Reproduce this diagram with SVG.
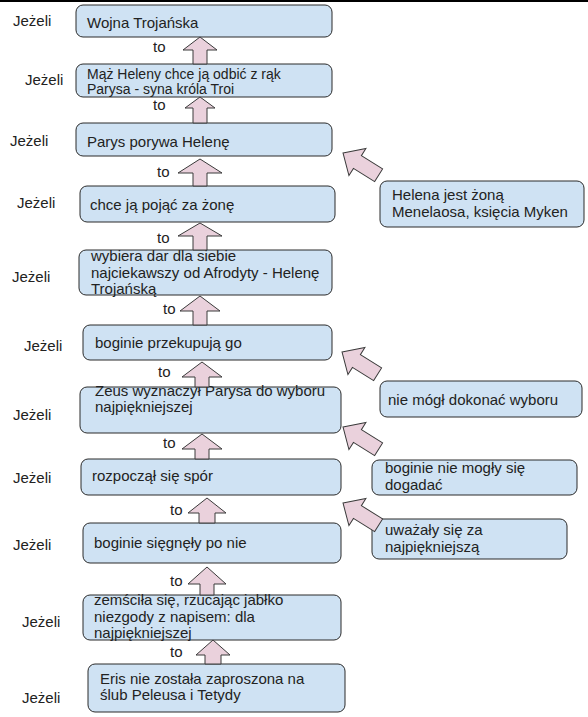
<svg xmlns="http://www.w3.org/2000/svg" width="588" height="717" viewBox="0 0 588 717">
  <style>
    .box { fill: #cfe2f3; stroke: #2b2b2b; stroke-width: 1; }
    .arw { fill: #ead1dc; stroke: #3a3a3a; stroke-width: 1; stroke-linejoin: miter; }
    text { font-family: "Liberation Sans", Arial, sans-serif; font-size: 15px; fill: #222; }
    .tight { font-size: 14px; }
  </style>
  <defs>
    <!-- slanted block arrow, tip at origin, pointing to -x -->
    <polygon id="slant" points="0,0 17,-16 17,-7.5 42,-7.5 42,7.5 17,7.5 17,16"/>
  </defs>

  <rect x="0" y="0" width="588" height="2" fill="#000"/>

  <!-- "Jeżeli" labels -->
  <g id="labels">
    <text x="13" y="26">Jeżeli</text>
    <text x="25" y="85">Jeżeli</text>
    <text x="10" y="146">Jeżeli</text>
    <text x="17" y="208">Jeżeli</text>
    <text x="12" y="282">Jeżeli</text>
    <text x="24" y="351">Jeżeli</text>
    <text x="13" y="420">Jeżeli</text>
    <text x="13" y="483">Jeżeli</text>
    <text x="13" y="550">Jeżeli</text>
    <text x="22" y="627">Jeżeli</text>
    <text x="22" y="703">Jeżeli</text>
  </g>

  <!-- main chain -->
  <g id="n1"><rect class="box" x="76" y="5" width="256" height="32" rx="7"/>
    <text x="87" y="28">Wojna Trojańska</text></g>
  <g id="n2"><rect class="box" x="76" y="64" width="256" height="33" rx="7"/>
    <text class="tight" x="87" y="79">Mąż Heleny chce ją odbić z rąk</text>
    <text class="tight" x="87" y="94">Parysa - syna króla Troi</text></g>
  <g id="n3"><rect class="box" x="76" y="123" width="256" height="33" rx="7"/>
    <text x="87" y="147">Parys porywa Helenę</text></g>
  <g id="n4"><rect class="box" x="80" y="186" width="255" height="36" rx="7"/>
    <text x="90" y="210">chce ją pojąć za żonę</text></g>
  <g id="n5"><rect class="box" x="79" y="250" width="253" height="45" rx="7"/>
    <text x="91" y="261">wybiera dar dla siebie</text>
    <text x="91" y="278">najciekawszy od Afrodyty - Helenę</text>
    <text x="91" y="294">Trojańską</text></g>
  <g id="n6"><rect class="box" x="83" y="325" width="249" height="35" rx="7"/>
    <text x="95" y="348">boginie przekupują go</text></g>
  <g id="n7"><rect class="box" x="80" y="387" width="261" height="46" rx="7"/>
    <text x="95" y="396">Zeus wyznaczył Parysa do wyboru</text>
    <text x="95" y="412">najpiękniejszej</text></g>
  <g id="n8"><rect class="box" x="81" y="459" width="260" height="36" rx="7"/>
    <text x="92" y="481">rozpoczął się spór</text></g>
  <g id="n9"><rect class="box" x="83" y="523" width="258" height="40" rx="7"/>
    <text x="94" y="548">boginie sięgnęły po nie</text></g>
  <g id="n10"><rect class="box" x="83" y="595" width="258" height="45" rx="7"/>
    <text x="94" y="605">zemściła się, rzucając jabłko</text>
    <text x="94" y="622">niezgody z napisem: dla</text>
    <text x="94" y="638">najpiękniejszej</text></g>
  <g id="n11"><rect class="box" x="88" y="664" width="257" height="48" rx="7"/>
    <text x="100" y="684">Eris nie została zaproszona na</text>
    <text x="100" y="700">ślub Peleusa i Tetydy</text></g>

  <!-- side reasons -->
  <g id="r1"><rect class="box" x="380" y="181" width="204" height="46" rx="7"/>
    <text x="392" y="200">Helena jest żoną</text>
    <text x="392" y="217">Menelaosa, księcia Myken</text></g>
  <g id="r2"><rect class="box" x="380" y="381" width="202" height="36" rx="7"/>
    <text x="388" y="405">nie mógł dokonać wyboru</text></g>
  <g id="r3"><rect class="box" x="372" y="460" width="205" height="35" rx="7"/>
    <text x="385" y="473">boginie nie mogły się</text>
    <text x="385" y="490">dogadać</text></g>
  <g id="r4"><rect class="box" x="372" y="519" width="195" height="40" rx="7"/>
    <text x="385" y="535">uważały się za</text>
    <text x="385" y="552">najpiękniejszą</text></g>

  <!-- connectors: "to" arrows up the chain, slanted arrows from the reasons -->
  <g id="connectors">
    <polygon class="arw" points="200,37 217,50 207,50 207,64 193,64 193,50 183,50"/>
    <polygon class="arw" points="200,97 215,108 207,108 207,123 193,123 193,108 185,108"/>
    <polygon class="arw" points="200,159 222,173 207,173 207,186 193,186 193,173 178,173"/>
    <polygon class="arw" points="200,223 222,236 207,236 207,250 193,250 193,236 178,236"/>
    <polygon class="arw" points="200,296 220,311 207,311 207,325 193,325 193,311 180,311"/>
    <polygon class="arw" points="202,362 222,377 209,377 209,387 195,387 195,377 182,377"/>
    <polygon class="arw" points="202,434 222,449 209,449 209,459 195,459 195,449 182,449"/>
    <polygon class="arw" points="207,498 226,513 215,513 215,523 199,523 199,513 188,513"/>
    <polygon class="arw" points="207,567 226,584 214,584 214,595 200,595 200,584 188,584"/>
    <polygon class="arw" points="213,640 230,655 221,655 221,664 205,664 205,655 196,655"/>
    <text x="153" y="52">to</text>
    <text x="153" y="110">to</text>
    <text x="157" y="177">to</text>
    <text x="157" y="243">to</text>
    <text x="163" y="314">to</text>
    <text x="158" y="377">to</text>
    <text x="163" y="448">to</text>
    <text x="170" y="515">to</text>
    <text x="170" y="586">to</text>
    <text x="170" y="657">to</text>

    <use href="#slant" class="arw" transform="translate(343,153) rotate(32)"/>
    <use href="#slant" class="arw" transform="translate(342,352) rotate(32)"/>
    <use href="#slant" class="arw" transform="translate(343,427) rotate(32)"/>
    <use href="#slant" class="arw" transform="translate(343,503) rotate(32)"/>
  </g>
</svg>
